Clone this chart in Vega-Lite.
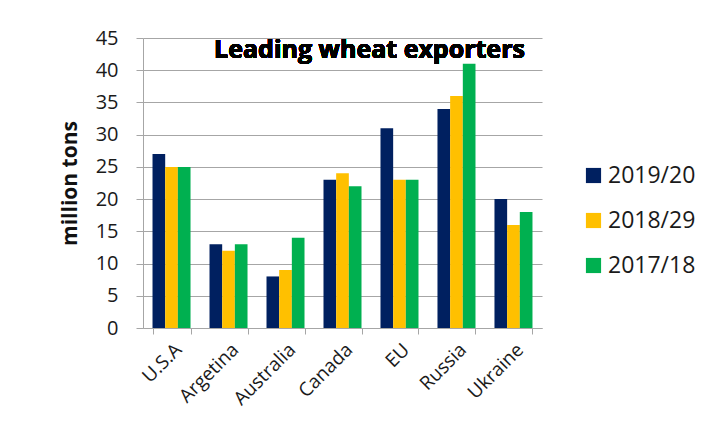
{
  "$schema": "https://vega.github.io/schema/vega-lite/v6.json",
  "width": 399,
  "height": 290,
  "autosize": "none",
  "padding": {"left": 143, "top": 38, "right": 180, "bottom": 94},
  "background": "white",
  "config": {
    "font": "Open Sans",
    "view": {"stroke": null},
    "axis": {"labelFont": "Open Sans", "titleFont": "Open Sans", "labelColor": "#1a1a1a", "titleColor": "#111"}
  },
  "data": {
    "values": [
      {"country": "U.S.A", "season": "2019/20", "tons": 27},
      {"country": "U.S.A", "season": "2018/29", "tons": 25},
      {"country": "U.S.A", "season": "2017/18", "tons": 25},
      {"country": "Argetina", "season": "2019/20", "tons": 13},
      {"country": "Argetina", "season": "2018/29", "tons": 12},
      {"country": "Argetina", "season": "2017/18", "tons": 13},
      {"country": "Australia", "season": "2019/20", "tons": 8},
      {"country": "Australia", "season": "2018/29", "tons": 9},
      {"country": "Australia", "season": "2017/18", "tons": 14},
      {"country": "Canada", "season": "2019/20", "tons": 23},
      {"country": "Canada", "season": "2018/29", "tons": 24},
      {"country": "Canada", "season": "2017/18", "tons": 22},
      {"country": "EU", "season": "2019/20", "tons": 31},
      {"country": "EU", "season": "2018/29", "tons": 23},
      {"country": "EU", "season": "2017/18", "tons": 23},
      {"country": "Russia", "season": "2019/20", "tons": 34},
      {"country": "Russia", "season": "2018/29", "tons": 36},
      {"country": "Russia", "season": "2017/18", "tons": 41},
      {"country": "Ukraine", "season": "2019/20", "tons": 20},
      {"country": "Ukraine", "season": "2018/29", "tons": 16},
      {"country": "Ukraine", "season": "2017/18", "tons": 18}
    ]
  },
  "encoding": {
    "x": {
      "field": "country",
      "type": "nominal",
      "sort": null,
      "scale": {"paddingInner": 0.333, "paddingOuter": 0.167},
      "axis": {
        "title": null,
        "labelAngle": -45,
        "labelFontSize": 19,
        "labelPadding": 6,
        "tickBand": "extent",
        "tickSize": 6,
        "tickColor": "#a6a6a6",
        "domainColor": "#a6a6a6",
        "grid": false
      }
    }
  },
  "layer": [
    {
      "mark": {"type": "bar"},
      "encoding": {
        "y": {
          "field": "tons",
          "type": "quantitative",
          "scale": {"domain": [0, 45], "nice": false},
          "axis": {
            "title": "million tons",
            "titleFontSize": 21,
            "titleFontWeight": "bold",
            "titlePadding": 15,
            "values": [0, 5, 10, 15, 20, 25, 30, 35, 40, 45],
            "labelOverlap": false,
            "labelFontSize": 20,
            "labelPadding": 18,
            "tickSize": 7,
            "tickColor": "#a6a6a6",
            "domainColor": "#a6a6a6",
            "gridColor": "#a6a6a6",
            "gridWidth": 1.2
          }
        },
        "xOffset": {"field": "season", "type": "nominal", "sort": ["2019/20", "2018/29", "2017/18"], "scale": {"paddingInner": 0, "paddingOuter": 0}},
        "color": {
          "field": "season",
          "type": "nominal",
          "sort": ["2019/20", "2018/29", "2017/18"],
          "scale": {"domain": ["2019/20", "2018/29", "2017/18"], "range": ["#002060", "#ffc000", "#00b050"]},
          "legend": {
            "title": null,
            "orient": "none",
            "legendX": 439,
            "legendY": 126,
            "padding": 0,
            "symbolType": "square",
            "symbolSize": 230,
            "symbolStrokeWidth": 0,
            "labelFontSize": 23,
            "labelFont": "Open Sans",
            "labelColor": "#1a1a1a",
            "labelOffset": 3,
            "rowPadding": 21
          }
        }
      }
    },
    {
      "mark": {"type": "text", "font": "Open Sans", "fontWeight": "bold", "fontSize": 25, "baseline": "alphabetic", "align": "center", "dx": 27, "dy": 20, "color": "#000"},
      "encoding": {
        "y": {
          "datum": 45,
          "type": "quantitative",
          "axis": {
            "title": "million tons",
            "titleFontSize": 21,
            "titleFontWeight": "bold",
            "titlePadding": 15,
            "values": [0, 5, 10, 15, 20, 25, 30, 35, 40, 45],
            "labelOverlap": false,
            "labelFontSize": 20,
            "labelPadding": 18,
            "tickSize": 7,
            "tickColor": "#a6a6a6",
            "domainColor": "#a6a6a6",
            "gridColor": "#a6a6a6",
            "gridWidth": 1.2
          }
        },
        "x": {"datum": "Canada", "type": "nominal"},
        "text": {"value": "Leading wheat exporters"}
      }
    }
  ]
}
